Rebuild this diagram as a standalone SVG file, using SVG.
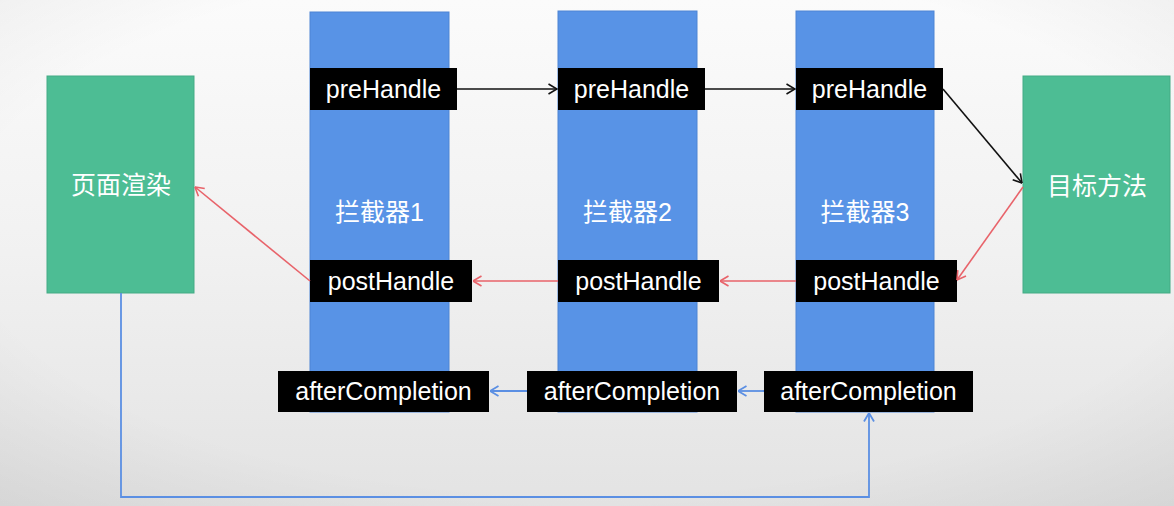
<svg xmlns="http://www.w3.org/2000/svg" width="1174" height="506" viewBox="0 0 1174 506">
  <defs>
    <linearGradient id="bg" x1="0" y1="0" x2="0" y2="1">
      <stop offset="0" stop-color="#fbfbfb"/>
      <stop offset="0.5" stop-color="#f1f1f1"/>
      <stop offset="1" stop-color="#e3e3e3"/>
    </linearGradient>
    <radialGradient id="vig" cx="0.5" cy="0.45" r="0.75">
      <stop offset="0.7" stop-color="#000" stop-opacity="0"/>
      <stop offset="1" stop-color="#000" stop-opacity="0.06"/>
    </radialGradient>
    <marker id="ah-black" markerUnits="userSpaceOnUse" viewBox="0 0 10 12" refX="9.5" refY="6" markerWidth="10" markerHeight="12" orient="auto">
      <path d="M1,1 L9.5,6 L1,11" fill="none" stroke="#111" stroke-width="1.6"/>
    </marker>
    <marker id="ah-red" markerUnits="userSpaceOnUse" viewBox="0 0 10 12" refX="9.5" refY="6" markerWidth="10" markerHeight="12" orient="auto">
      <path d="M1,1 L9.5,6 L1,11" fill="none" stroke="#e8636a" stroke-width="1.6"/>
    </marker>
    <marker id="ah-blue" markerUnits="userSpaceOnUse" viewBox="0 0 10 12" refX="9.5" refY="6" markerWidth="10" markerHeight="12" orient="auto">
      <path d="M1,1 L9.5,6 L1,11" fill="none" stroke="#5b8fe3" stroke-width="1.8"/>
    </marker>
  </defs>
  <style>
    .col { fill: #5893e6; stroke: #4c84d4; stroke-width: 1; }
    .green { fill: #4dbd94; stroke: #44ab85; stroke-width: 1; }
    .tag { fill: #000; }
    .t { font-family: "Liberation Sans", "Noto Sans CJK SC", sans-serif; font-size: 25px; fill: #fff; text-anchor: middle; }
    .black { fill: none; stroke: #111; stroke-width: 1.6; marker-end: url(#ah-black); }
    .red { fill: none; stroke: #e8636a; stroke-width: 1.6; marker-end: url(#ah-red); }
    .blue { fill: none; stroke: #5b8fe3; stroke-width: 1.8; marker-end: url(#ah-blue); }
  </style>

  <rect x="0" y="0" width="1174" height="506" fill="url(#bg)"/>
  <rect x="0" y="0" width="1174" height="506" fill="url(#vig)"/>

  <g id="render">
    <rect class="green" x="47" y="76" width="147" height="217"/>
    <text class="t" x="121" y="194">页面渲染</text>
  </g>

  <g id="interceptor1">
    <rect class="col" x="310" y="12" width="139" height="400"/>
    <text class="t" x="379.5" y="221">拦截器1</text>
  </g>
  <g id="interceptor2">
    <rect class="col" x="558" y="11" width="139" height="401"/>
    <text class="t" x="627.5" y="221">拦截器2</text>
  </g>
  <g id="interceptor3">
    <rect class="col" x="796" y="11" width="138" height="401"/>
    <text class="t" x="865" y="221">拦截器3</text>
  </g>

  <g id="target">
    <rect class="green" x="1023" y="76" width="147" height="217"/>
    <text class="t" x="1097" y="195">目标方法</text>
  </g>

  <g id="preHandle1">
    <rect class="tag" x="310" y="68" width="147" height="42"/>
    <text class="t" x="383.5" y="98">preHandle</text>
  </g>
  <g id="preHandle2">
    <rect class="tag" x="558" y="68" width="147" height="42"/>
    <text class="t" x="631.5" y="98">preHandle</text>
  </g>
  <g id="preHandle3">
    <rect class="tag" x="796" y="68" width="147" height="42"/>
    <text class="t" x="869.5" y="98">preHandle</text>
  </g>

  <g id="postHandle1">
    <rect class="tag" x="310" y="260" width="162" height="42"/>
    <text class="t" x="391" y="290">postHandle</text>
  </g>
  <g id="postHandle2">
    <rect class="tag" x="558" y="260" width="161" height="42"/>
    <text class="t" x="638.5" y="290">postHandle</text>
  </g>
  <g id="postHandle3">
    <rect class="tag" x="796" y="260" width="161" height="42"/>
    <text class="t" x="876.5" y="290">postHandle</text>
  </g>

  <g id="afterCompletion1">
    <rect class="tag" x="278" y="371" width="211" height="41"/>
    <text class="t" x="383.5" y="400">afterCompletion</text>
  </g>
  <g id="afterCompletion2">
    <rect class="tag" x="527" y="371" width="210" height="41"/>
    <text class="t" x="632" y="400">afterCompletion</text>
  </g>
  <g id="afterCompletion3">
    <rect class="tag" x="764" y="371" width="209" height="41"/>
    <text class="t" x="868.5" y="400">afterCompletion</text>
  </g>

  <g id="connectors">
    <line class="black" x1="457" y1="89" x2="557" y2="89"/>
    <line class="black" x1="705" y1="89" x2="795" y2="89"/>
    <line class="black" x1="943" y1="89" x2="1022" y2="183"/>
    <line class="red" x1="1023" y1="187" x2="957" y2="280"/>
    <line class="red" x1="796" y1="281" x2="720" y2="281"/>
    <line class="red" x1="558" y1="281" x2="473" y2="281"/>
    <line class="red" x1="310" y1="281" x2="195" y2="187"/>
    <line class="blue" x1="764" y1="391" x2="738" y2="391"/>
    <line class="blue" x1="527" y1="391" x2="490" y2="391"/>
    <polyline class="blue" points="121,293 121,497 869,497 869,413"/>
  </g>
</svg>
